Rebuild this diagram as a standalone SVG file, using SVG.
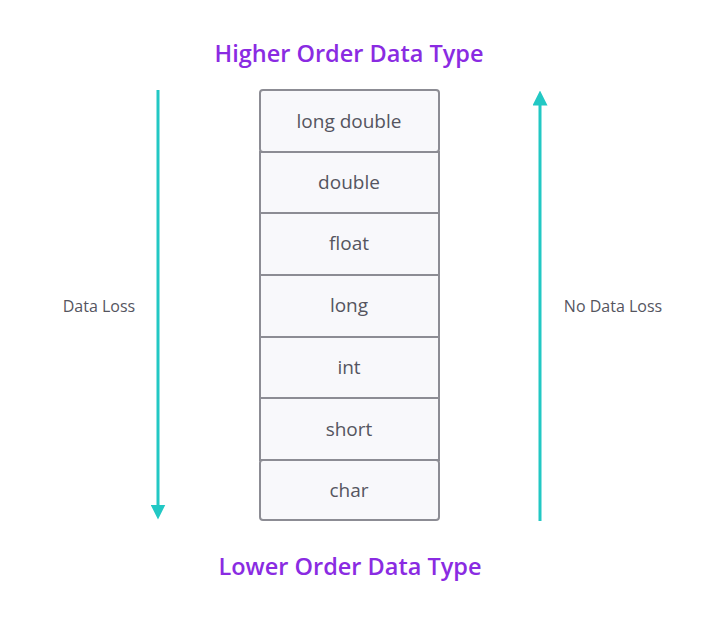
<svg xmlns="http://www.w3.org/2000/svg" width="720" height="618" viewBox="0 0 720 618">
<style>
.t{font-family:"Open Sans","Liberation Sans",sans-serif;font-size:19px;fill:#55555f;text-anchor:middle}
.h{font-family:"Open Sans","Liberation Sans",sans-serif;font-size:23.5px;font-weight:600;fill:#8a2be2;text-anchor:middle}
.s{font-family:"Open Sans","Liberation Sans",sans-serif;font-size:16px;fill:#55555f;text-anchor:middle}
.c{fill:#f8f8fb;stroke:#8c8c94;stroke-width:2}
.a{stroke:#22c8c4;stroke-width:3;fill:none}
</style>
<defs><marker id="m" viewBox="0 0 10 10" refX="5" refY="5" markerWidth="5" markerHeight="5" orient="auto"><path d="M0,0L10,5L0,10z" fill="#22c8c4"/></marker></defs>
<rect width="720" height="618" fill="#fff"/>
<text class="h" x="349" y="62">Higher Order Data Type</text>
<text class="h" x="350" y="575">Lower Order Data Type</text>
<g id="n1"><rect class="c" x="260" y="90" width="179" height="62" rx="3"/><text class="t" x="349" y="128">long double</text></g>
<g id="n2"><rect class="c" x="260" y="152" width="179" height="61"/><text class="t" x="349" y="189">double</text></g>
<g id="n3"><rect class="c" x="260" y="213" width="179" height="62"/><text class="t" x="349" y="250">float</text></g>
<g id="n4"><rect class="c" x="260" y="275" width="179" height="62"/><text class="t" x="349" y="312">long</text></g>
<g id="n5"><rect class="c" x="260" y="337" width="179" height="61"/><text class="t" x="349" y="374">int</text></g>
<g id="n6"><rect class="c" x="260" y="398" width="179" height="62"/><text class="t" x="349" y="436">short</text></g>
<g id="n7"><rect class="c" x="260" y="460" width="179" height="60" rx="3"/><text class="t" x="349" y="497">char</text></g>
<g id="connectors">
<line class="a" x1="158" y1="90" x2="158" y2="512" marker-end="url(#m)"/>
<line class="a" x1="540" y1="521" x2="540" y2="98" marker-end="url(#m)"/>
</g>
<text class="s" x="99" y="312">Data Loss</text>
<text class="s" x="613" y="312">No Data Loss</text>
</svg>
